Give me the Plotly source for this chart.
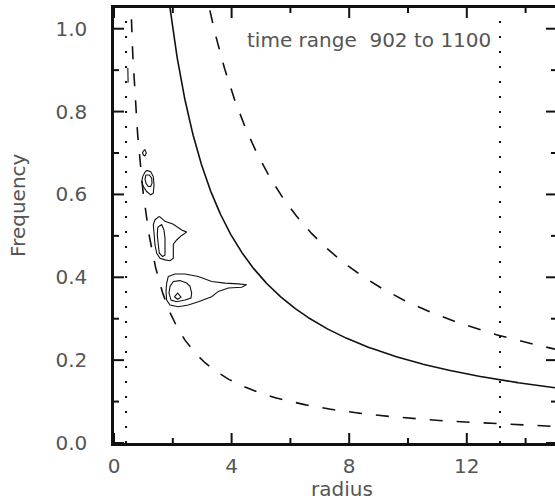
import numpy as np
import plotly.graph_objects as go

# ---- data -------------------------------------------------------------
# frequency ~ k / radius reference curves
solid_k = 2.0
dashed_k = [0.6, 3.4]
# vertical dotted markers (radius)
dotted_r = [0.41, 13.13]

# contour outlines (radius, frequency)
c1_r = [1.00, 1.05, 1.10, 1.05, 1.00, 0.97, 1.00]
c1_f = [0.705, 0.708, 0.700, 0.693, 0.695, 0.700, 0.705]

c2o_r = [1.112, 1.248, 1.337, 1.361, 1.337, 1.248, 1.112, 0.997, 0.942, 0.976, 1.054, 1.112]
c2o_f = [0.658, 0.655, 0.643, 0.623, 0.603, 0.599, 0.607, 0.619, 0.631, 0.643, 0.654, 0.658]
c2i_r = [1.088, 1.201, 1.282, 1.293, 1.248, 1.167, 1.088, 1.054, 1.088]
c2i_f = [0.647, 0.647, 0.639, 0.627, 0.619, 0.619, 0.627, 0.637, 0.647]

c3o_r = [1.542, 1.735, 2.018, 2.302, 2.472, 2.302, 2.132, 2.018, 2.018, 2.018, 1.905,
         1.735, 1.565, 1.452, 1.395, 1.361, 1.337, 1.395, 1.542]
c3o_f = [0.547, 0.535, 0.528, 0.514, 0.509, 0.501, 0.490, 0.480, 0.462, 0.446, 0.440,
         0.442, 0.446, 0.458, 0.478, 0.502, 0.527, 0.539, 0.547]
c3i_r = [1.507, 1.622, 1.701, 1.735, 1.735, 1.735, 1.656, 1.542, 1.507, 1.473, 1.486, 1.507]
c3i_f = [0.522, 0.527, 0.514, 0.494, 0.470, 0.454, 0.450, 0.458, 0.478, 0.502, 0.519, 0.522]

c4o_r = [1.848, 2.075, 2.415, 2.868, 3.322, 3.776, 4.229, 4.512, 4.342, 3.889, 3.549,
         3.322, 2.868, 2.528, 2.188, 1.905, 1.791, 1.769, 1.791, 1.848]
c4o_f = [0.402, 0.408, 0.408, 0.402, 0.390, 0.386, 0.384, 0.382, 0.376, 0.374, 0.366,
         0.353, 0.341, 0.333, 0.329, 0.333, 0.345, 0.366, 0.386, 0.402]
c4m_r = [1.905, 2.018, 2.245, 2.472, 2.585, 2.642, 2.619, 2.415, 2.132, 1.939, 1.871, 1.905]
c4m_f = [0.378, 0.390, 0.392, 0.386, 0.378, 0.362, 0.350, 0.345, 0.341, 0.345, 0.362, 0.378]
c4i_r = [2.052, 2.166, 2.279, 2.166, 2.052]
c4i_f = [0.353, 0.362, 0.352, 0.347, 0.353]

c5_r = [0.47, 0.49, 0.48, 0.47]
c5_f = [0.905, 0.880, 0.870, 0.905]

contours = [(c1_r, c1_f), (c2o_r, c2o_f), (c2i_r, c2i_f), (c3o_r, c3o_f),
            (c3i_r, c3i_f), (c4o_r, c4o_f), (c4m_r, c4m_f), (c4i_r, c4i_f),
            (c5_r, c5_f)]

x_range = [0, 15]
y_range = [0, 1.05]
x_major, x_minor = 4, 2
y_major, y_minor = 0.2, 0.1
title_text = "time range\u00a0\u00a0902 to 1100"

# ---- layout geometry --------------------------------------------------
W, H = 555, 503
M = dict(l=114, r=0, t=8, b=60)
x_per_px = (x_range[1] - x_range[0]) / (W - M["l"] - M["r"])
y_per_px = (y_range[1] - y_range[0]) / (H - M["t"] - M["b"])

INK = "#111111"
TXT = "#555555"
FONT = dict(family="DejaVu Sans, sans-serif", size=20, color=TXT)

fig = go.Figure()

r = np.linspace(0.3, 15, 800)
fig.add_trace(go.Scatter(x=r, y=solid_k / r, mode="lines",
                         line=dict(color=INK, width=1.6), hoverinfo="skip"))
for k in dashed_k:
    fig.add_trace(go.Scatter(x=r, y=k / r, mode="lines",
                             line=dict(color=INK, width=1.6, dash="13px,14px"),
                             hoverinfo="skip"))
for xv in dotted_r:
    fig.add_trace(go.Scatter(x=[xv, xv], y=y_range, mode="lines",
                             line=dict(color=INK, width=2, dash="2px,13px"),
                             hoverinfo="skip"))
for cr, cf in contours:
    fig.add_trace(go.Scatter(x=cr, y=cf, mode="lines",
                             line=dict(color=INK, width=1.1), hoverinfo="skip"))


# Inward tick marks on all four sides (major + minor), one segment per trace
def add_ticks(values, fixed, length, vertical, width=2):
    for v in values:
        v = float(v)
        if vertical:
            xs, ys = [v, v], [fixed, fixed + length]
        else:
            xs, ys = [fixed, fixed + length], [v, v]
        fig.add_trace(go.Scatter(x=xs, y=ys, mode="lines", cliponaxis=False,
                                 line=dict(color=INK, width=width),
                                 hoverinfo="skip"))


x_maj = np.arange(x_range[0], x_range[1] + 1e-9, x_major)
x_min = np.arange(x_range[0] + x_minor, x_range[1] + 1e-9, x_major)
y_maj = np.arange(y_range[0], y_range[1] + 1e-9, y_major)
y_min = np.arange(y_range[0] + y_minor, y_range[1] + 1e-9, y_major)

add_ticks(x_maj, y_range[0], 10 * y_per_px, True)
add_ticks(x_min, y_range[0], 5 * y_per_px, True)
add_ticks(x_maj, y_range[1], -10 * y_per_px, True)
add_ticks(x_min, y_range[1], -5 * y_per_px, True)
add_ticks(y_maj, x_range[0], 10 * x_per_px, False)
add_ticks(y_min, x_range[0], 5 * x_per_px, False)
add_ticks(y_maj, x_range[1], -9 * x_per_px, False)
add_ticks(y_min, x_range[1], -4 * x_per_px, False)

# companion axis carrying the top frame line
fig.add_trace(go.Scatter(x=[1], y=[0.5], xaxis="x2", mode="markers",
                         marker=dict(opacity=0), hoverinfo="skip"))

fig.update_layout(
    width=W, height=H,
    margin=M,
    paper_bgcolor="white", plot_bgcolor="white",
    showlegend=False,
    font=FONT,
    xaxis=dict(range=x_range, tickmode="linear", tick0=0, dtick=x_major,
               showgrid=False, zeroline=False, showline=True, linecolor=INK,
               linewidth=2.5, ticks="", tickfont=FONT, ticklabelstandoff=3),
    yaxis=dict(range=y_range, tickmode="linear", tick0=0, dtick=y_major,
               showgrid=False, zeroline=False, showline=True, linecolor=INK,
               linewidth=2.5, ticks="", tickformat=".1f", tickfont=FONT,
               ticklabelstandoff=20),
    xaxis2=dict(range=x_range, overlaying="x", side="top", showgrid=False,
                zeroline=False, showline=True, linecolor=INK, linewidth=2.5,
                ticks="", showticklabels=False),
    annotations=[
        dict(text=title_text, x=4.46, y=0.973, xref="x", yref="y",
             xanchor="left", yanchor="middle", showarrow=False, font=FONT),
        dict(text="radius", x=0.517, y=-0.138, xref="paper", yref="paper",
             xanchor="center", yanchor="bottom", showarrow=False, font=FONT),
        dict(text="Frequency", x=-0.218, y=0.547, xref="paper", yref="paper",
             xanchor="center", yanchor="middle", textangle=-90,
             showarrow=False, font=FONT),
    ],
)

fig.write_html("out.html")
